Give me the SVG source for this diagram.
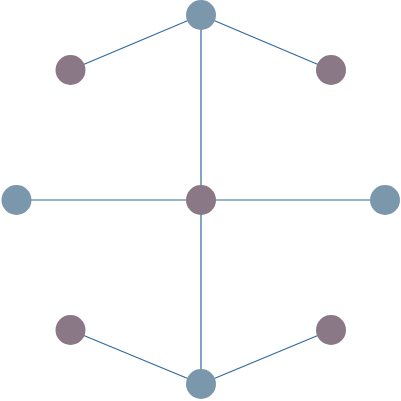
<svg xmlns="http://www.w3.org/2000/svg" width="401" height="401" viewBox="0 0 401 401">
<style>
.e{stroke:#2e6b9e;stroke-width:1.2;fill:none}
.a{fill:#7b97ab}
.b{fill:#8a7886}
</style>
<rect width="401" height="401" fill="#fff"/>
<g id="edges">
<line class="e" x1="201" y1="15" x2="70.5" y2="70"/>
<line class="e" x1="201" y1="15" x2="331" y2="70"/>
<line class="e" x1="201" y1="15" x2="201" y2="200"/>
<line class="e" x1="16.5" y1="200" x2="385" y2="200"/>
<line class="e" x1="201" y1="200" x2="201" y2="384"/>
<line class="e" x1="201" y1="384" x2="70.5" y2="330"/>
<line class="e" x1="201" y1="384" x2="331" y2="330"/>
</g>
<g id="n-top"><circle class="a" cx="201" cy="15" r="15"/></g>
<g id="n-tl"><circle class="b" cx="70.5" cy="70" r="15"/></g>
<g id="n-tr"><circle class="b" cx="331" cy="70" r="15"/></g>
<g id="n-left"><circle class="a" cx="16.5" cy="200" r="15"/></g>
<g id="n-center"><circle class="b" cx="201" cy="200" r="15"/></g>
<g id="n-right"><circle class="a" cx="385" cy="200" r="15"/></g>
<g id="n-bl"><circle class="b" cx="70.5" cy="330" r="15"/></g>
<g id="n-br"><circle class="b" cx="331" cy="330" r="15"/></g>
<g id="n-bottom"><circle class="a" cx="201" cy="384" r="15"/></g>
</svg>
